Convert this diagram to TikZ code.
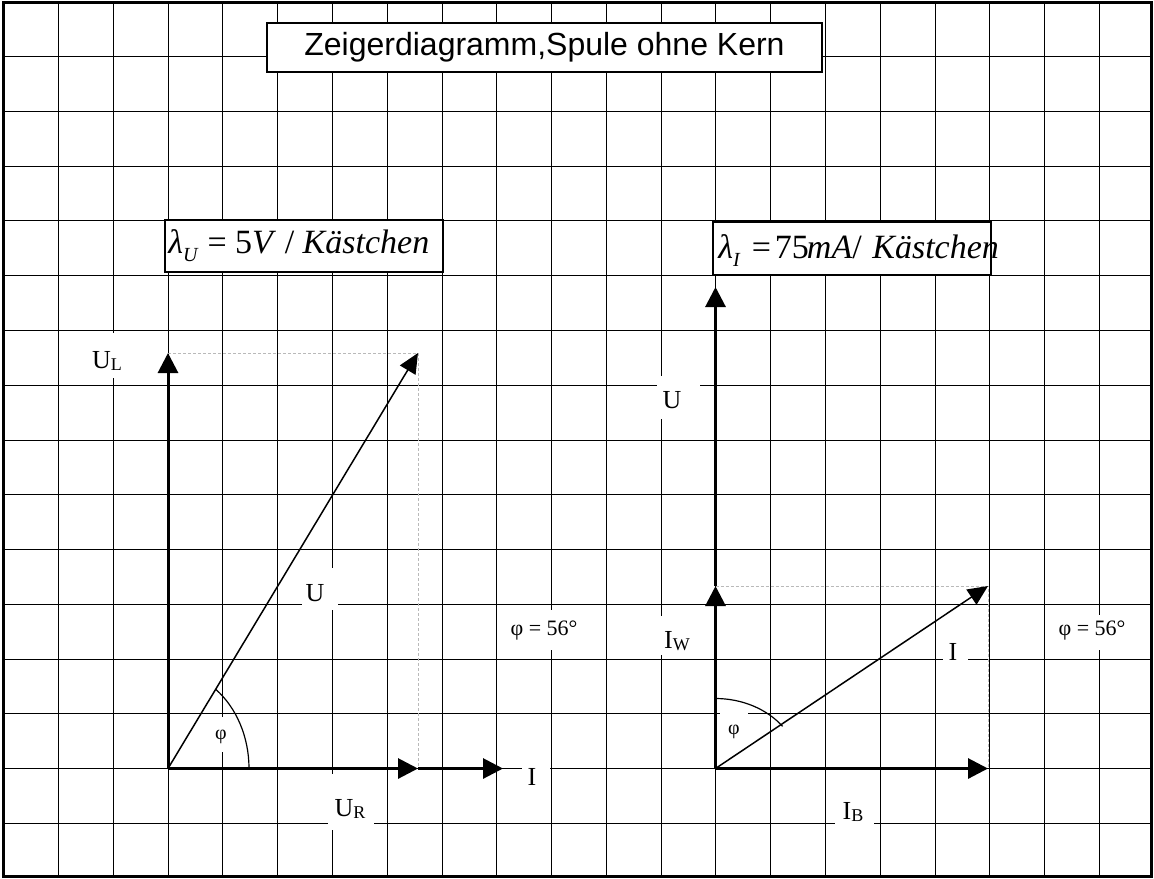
\documentclass[tikz,border=0pt]{standalone}
\usepackage{fontspec}
\setmainfont{Liberation Serif}
\newfontfamily\arialfont{Liberation Sans}
\usetikzlibrary{arrows.meta}
\begin{document}
\begin{tikzpicture}[x=0.5pt,y=-0.5pt,
  gridline/.style={line width=0.7pt,black},
  outerframe/.style={line width=1.5pt,black},
  vec/.style={line width=1.5pt,-{Triangle[length=10pt,width=10pt]}},
  thinvec/.style={line width=0.75pt,-{Triangle[length=10pt,width=9pt]}},
  helper/.style={gray!55,line width=0.45pt,dash pattern=on 1.5pt off 1pt},
  anglearc/.style={line width=0.6pt},
  lbl/.style={inner sep=0pt,font=\fontsize{13}{13}\selectfont},
  small/.style={inner sep=0pt,font=\fontsize{11}{11}\selectfont},
  tiny/.style={inner sep=0pt,font=\fontsize{10}{10}\selectfont},
  scalebox/.style={draw,fill=white,line width=0.75pt},
  scaletext/.style={inner sep=0pt,anchor=base west,font=\fontsize{17}{17}\selectfont}]
\useasboundingbox (0,0) rectangle (1154,878);
% grid
\foreach \k in {0,...,19}{\draw[gridline] ({round(58+\k*54.79)+0.5},2) -- ({round(58+\k*54.79)+0.5},876.5);}
\foreach \k in {0,...,14}{\draw[gridline] (3.5,{round(56+\k*54.79)+0.5}) -- (1151.5,{round(56+\k*54.79)+0.5});}
% white label backgrounds
\fill[white] (88,333) rectangle (128,378);
\fill[white] (302,568) rectangle (338,610);
\fill[white] (328,774) rectangle (374,830);
\fill[white] (208,717) rectangle (236,752);
\fill[white] (505,610) rectangle (580,650);
\fill[white] (522,755) rectangle (550,800);
\fill[white] (657,376) rectangle (700,419);
\fill[white] (657,616) rectangle (700,655);
\fill[white] (943,632) rectangle (968,672);
\fill[white] (1058,615) rectangle (1128,650);
\fill[white] (720,705) rectangle (748,750);
\fill[white] (835,795) rectangle (874,830);
% frame
\draw[outerframe] (3.5,2) rectangle (1151.5,876.5);
% title
\node[draw,fill=white,line width=1pt,minimum width=277.5pt,minimum height=24.5pt,inner sep=0pt,
  font=\arialfont\fontsize{16}{16}\selectfont] (title) at (544.5,47.5) {Zeigerdiagramm,Spule ohne Kern};
% scale boxes
\draw[scalebox] (165,220) rectangle (443,272);
\node[scaletext] (lamU) at (168,253) {\textit{λ}\raisebox{-4pt}{\fontsize{10}{10}\selectfont\itshape U}\hspace{5pt}= 5\textit{V} / \textit{Kästchen}};
\draw[scalebox] (713,222) rectangle (991,275);
\node[scaletext] (lamI) at (718,258) {\textit{λ}\raisebox{-4pt}{\fontsize{10}{10}\selectfont\itshape I}\hspace{6pt}=\hspace{2pt}75\kern-1pt\textit{mA}/\hspace{1pt} \textit{Kästchen}};
% left diagram
\coordinate (O1) at (168,768.5);
\coordinate (ULt) at (168,353);
\coordinate (Ut) at (418,353);
\coordinate (URt) at (418,768.5);
\coordinate (It) at (503,768.5);
\draw[helper] (ULt) -- (Ut) -- (URt);
\draw[vec] (O1) -- (ULt);
\draw[vec] (O1) -- (URt);
\draw[vec] (URt) -- (It);
\draw[thinvec] (O1) -- (Ut);
\draw[anglearc] (249,768.5) arc[start angle=0,end angle=54,x radius=40.5pt,y radius=49pt];
% right diagram
\coordinate (O2) at (715.5,768.5);
\coordinate (IWt) at (715.5,586);
\coordinate (U2t) at (715.5,287);
\coordinate (IBt) at (988,768.5);
\coordinate (I2t) at (988,586);
\draw[helper] (IWt) -- (I2t) -- (IBt);
\draw[vec] (IWt) -- (U2t);
\draw[vec] (O2) -- (IWt);
\draw[vec] (O2) -- (IBt);
\draw[thinvec] (O2) -- (I2t);
\draw[anglearc] (715.5,698.5) arc[start angle=90,end angle=37,x radius=42pt,y radius=35pt];
% labels
\node[lbl] (lUL) at (107,361) {U\raisebox{-1pt}{\fontsize{9}{9}\selectfont L}};
\node[lbl] (lU1) at (315,593) {U};
\node[lbl] (lUR) at (350,809) {U\raisebox{-1pt}{\fontsize{9}{9}\selectfont R}};
\node[tiny] (lphi1) at (221,737) {φ};
\node[small] (lphis1) at (544,631) {φ = 56°};
\node[lbl] (lI1) at (532,777) {I};
\node[lbl] (lU2) at (672,400) {U};
\node[lbl] (lIW) at (677,641) {I\raisebox{-1pt}{\fontsize{9}{9}\selectfont W}};
\node[lbl] (lI2) at (953,652) {I};
\node[small] (lphis2) at (1092,631) {φ = 56°};
\node[tiny] (lphi2) at (734,732) {φ};
\node[lbl] (lIB) at (853,812) {I\raisebox{-1pt}{\fontsize{9}{9}\selectfont B}};
\end{tikzpicture}
\end{document}
